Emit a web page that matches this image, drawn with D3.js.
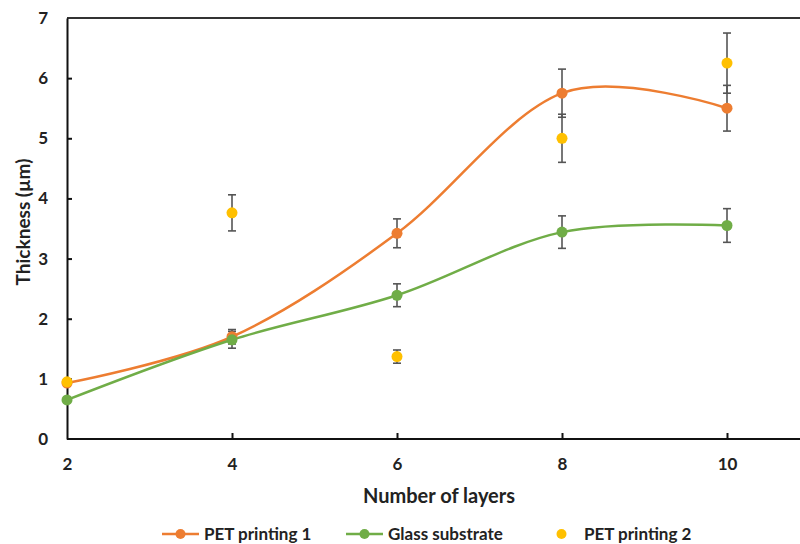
<!DOCTYPE html>
<html><head><meta charset="utf-8">
<script src="https://cdn.jsdelivr.net/npm/d3@7"></script>
<style>body{margin:0;background:#fff}svg{display:block;font-family:Lato,"Open Sans",sans-serif}</style>
</head><body><svg id="c" width="800" height="544"></svg>
<script>
const layers = [2, 4, 6, 8, 10];
const pet1 = [0.93, 1.70, 3.42, 5.75, 5.50];
const pet1Err = [0.05, 0.12, 0.24, 0.40, 0.38];
const glass = [0.65, 1.65, 2.39, 3.44, 3.55];
const glassErr = [0.04, 0.14, 0.19, 0.27, 0.28];
const pet2 = [0.95, 3.76, 1.37, 5.00, 6.25];
const pet2Err = [0.05, 0.30, 0.11, 0.40, 0.50];
const yTicks = [0, 1, 2, 3, 4, 5, 6, 7];
const xTicks = [2, 4, 6, 8, 10];

const svg = d3.select("#c");
const x = d3.scaleLinear().domain([2, 10]).range([67, 727]);
const y = d3.scaleLinear().domain([0, 7]).range([439, 18]);

// top border
svg.append("line").attr("x1", 67).attr("x2", 800).attr("y1", y(7)).attr("y2", y(7))
  .attr("stroke", "#333").attr("stroke-width", 2);

// axes
const yAxis = svg.append("g").attr("transform", "translate(67,0)")
  .call(d3.axisLeft(y).tickValues(yTicks).tickFormat(d3.format("d")).tickSizeInner(-5).tickSizeOuter(0).tickPadding(19));
const xAxis = svg.append("g").attr("transform", "translate(0,439)")
  .call(d3.axisBottom(x).tickValues(xTicks).tickFormat(d3.format("d")).tickSizeInner(-6).tickSizeOuter(0).tickPadding(19));
[yAxis, xAxis].forEach(g => {
  g.select(".domain").attr("stroke", "#111").attr("stroke-width", 2);
  g.selectAll(".tick line").attr("stroke", "#111").attr("stroke-width", 2);
  g.selectAll(".tick text").attr("font-size", 17).attr("font-weight", "bold").attr("fill", "#222")
    .attr("font-family", "Lato, 'Open Sans', sans-serif");
});
xAxis.select(".domain").attr("d", "M67,0H800");
yAxis.selectAll(".tick").filter(d => d === 0 || d === 7).select("line").remove();
xAxis.selectAll(".tick").filter(d => d === 2).select("line").remove();

// titles
svg.append("text").attr("transform", "translate(30,222) rotate(-90)").attr("text-anchor", "middle")
  .attr("font-size", 19).attr("font-weight", "bold").attr("fill", "#222").text("Thickness (µm)");
svg.append("text").attr("x", 439).attr("y", 503).attr("text-anchor", "middle")
  .attr("font-size", 20).attr("font-weight", "bold").attr("fill", "#222").text("Number of layers");

const line = d3.line().x(d => x(d[0])).y(d => y(d[1])).curve(d3.curveCardinal.tension(0));

function errBars(vals, errs) {
  const g = svg.append("g");
  layers.forEach((l, i) => {
    const cx = x(l), y1 = y(vals[i] - errs[i]), y2 = y(vals[i] + errs[i]);
    g.append("line").attr("x1", cx).attr("x2", cx).attr("y1", y1).attr("y2", y2);
    g.append("line").attr("x1", cx - 4).attr("x2", cx + 4).attr("y1", y1).attr("y2", y1);
    g.append("line").attr("x1", cx - 4).attr("x2", cx + 4).attr("y1", y2).attr("y2", y2);
  });
  g.selectAll("line").attr("stroke", "#555").attr("stroke-width", 1.6);
}

const series = [
  {vals: pet1, err: pet1Err, color: "#ED7D31", line: true},
  {vals: glass, err: glassErr, color: "#70AD47", line: true},
  {vals: pet2, err: pet2Err, color: "#FFC000", line: false}
];
series.forEach(s => {
  if (s.line) svg.append("path").datum(layers.map((l, i) => [l, s.vals[i]]))
    .attr("d", line).attr("fill", "none").attr("stroke", s.color).attr("stroke-width", 2.5);
});
series.forEach(s => errBars(s.vals, s.err));
series.forEach(s => {
  svg.append("g").selectAll("circle").data(layers.map((l, i) => [l, s.vals[i]])).join("circle")
    .attr("cx", d => x(d[0])).attr("cy", d => y(d[1])).attr("r", 5.5).attr("fill", s.color);
});

// legend
const legend = [
  {name: "PET printing 1", color: "#ED7D31", line: true, x: 162, tx: 204},
  {name: "Glass substrate", color: "#70AD47", line: true, x: 346, tx: 388},
  {name: "PET printing 2", color: "#FFC000", line: false, x: 543, tx: 584}
];
const ly = 534;
legend.forEach(d => {
  const g = svg.append("g");
  if (d.line) g.append("line").attr("x1", d.x).attr("x2", d.x + 37).attr("y1", ly).attr("y2", ly)
    .attr("stroke", d.color).attr("stroke-width", 2.5);
  g.append("circle").attr("cx", d.x + 18.5).attr("cy", ly).attr("r", 5).attr("fill", d.color);
  g.append("text").attr("x", d.tx).attr("y", ly + 6)
    .attr("font-size", 17).attr("font-weight", "bold").attr("fill", "#222").text(d.name);
});
</script></body></html>
